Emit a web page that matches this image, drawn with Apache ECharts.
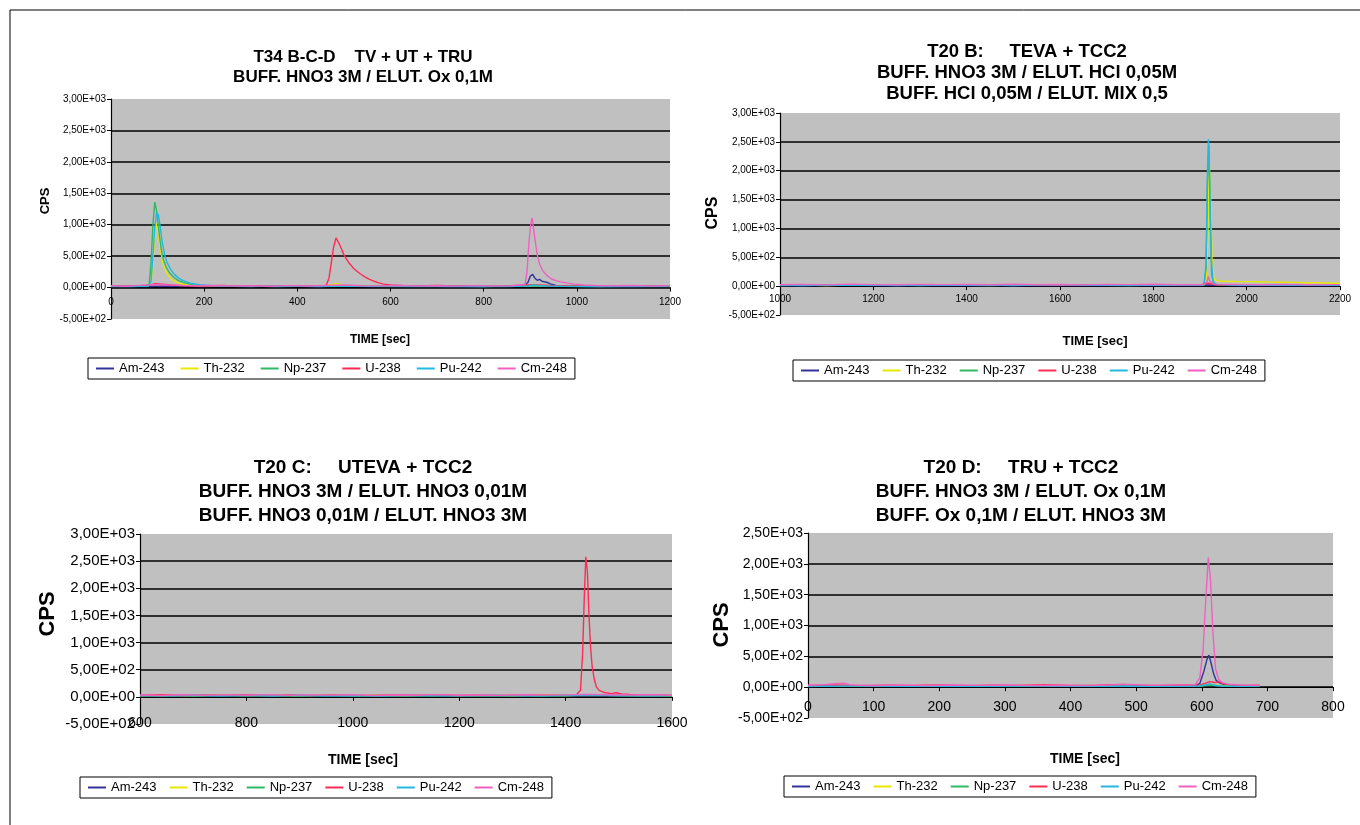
<!DOCTYPE html>
<html>
<head>
<meta charset="utf-8">
<script src="https://cdn.jsdelivr.net/npm/echarts@6/dist/echarts.min.js"></script>
<style>html,body{margin:0;padding:0;background:#fff;}#c{width:1360px;height:825px;}</style>
</head>
<body>
<div id="c"></div>
<script>
// ---------- DATA ----------
const seriesNames = ['Am-243', 'Th-232', 'Np-237', 'U-238', 'Pu-242', 'Cm-248'];
const panelTitles = [
  'T34 B-C-D    TV + UT + TRU\nBUFF. HNO3 3M / ELUT. Ox 0,1M',
  'T20 B:     TEVA + TCC2\nBUFF. HNO3 3M / ELUT. HCl 0,05M\nBUFF. HCl 0,05M / ELUT. MIX 0,5',
  'T20 C:     UTEVA + TCC2\nBUFF. HNO3 3M / ELUT. HNO3 0,01M\nBUFF. HNO3 0,01M / ELUT. HNO3 3M',
  'T20 D:     TRU + TCC2\nBUFF. HNO3 3M / ELUT. Ox 0,1M\nBUFF. Ox 0,1M / ELUT. HNO3 3M'
];
const xRanges = [[0, 1200, 200], [1000, 2200, 200], [600, 1600, 200], [0, 800, 100]];
const yRanges = [[-500, 3000, 500], [-500, 3000, 500], [-500, 3000, 500], [-500, 2500, 500]];

// Panel 1: T34 B-C-D  [time s, CPS]
const p1_am243 = [[0,15],[40,22],[80,18],[120,25],[160,20],[200,17],[240,24],[280,19],[320,21],[360,16],[400,23],[440,18],[480,26],[520,20],[560,17],[600,22],[640,19],[680,24],[720,18],[760,21],[800,16],[840,23],[885,30],[895,80],[900,180],[905,210],[910,150],[915,115],[920,130],[925,100],[935,85],[945,55],[955,35],[965,25],[1000,20],[1040,18],[1080,22],[1120,17],[1160,21],[1200,19]];
const p1_th232 = [[0,20],[40,25],[80,30],[88,200],[93,700],[97,1020],[101,900],[106,600],[112,380],[120,220],[130,130],[145,70],[160,45],[180,30],[220,22],[260,26],[300,20],[340,24],[380,19],[420,27],[460,30],[475,50],[485,60],[495,45],[510,30],[560,22],[600,25],[640,20],[680,23],[720,19],[760,26],[800,21],[840,24],[880,28],[905,45],[925,30],[960,22],[1000,25],[1050,20],[1100,23],[1150,19],[1200,22]];
const p1_np237 = [[0,18],[40,22],[78,20],[82,60],[86,400],[90,1000],[94,1360],[97,1250],[100,1100],[104,820],[108,600],[112,450],[118,330],[125,240],[135,160],[145,110],[160,70],[180,40],[210,25],[250,20],[300,23],[350,18],[400,21],[450,19],[500,24],[550,20],[600,18],[650,22],[700,19],[750,21],[800,17],[850,23],[900,30],[950,22],[1000,20],[1050,18],[1100,22],[1150,19],[1200,21]];
const p1_u238 = [[0,25],[40,30],[80,35],[95,60],[110,55],[130,40],[160,30],[200,25],[240,32],[280,22],[320,28],[360,24],[400,30],[440,26],[462,35],[468,150],[473,400],[478,650],[483,790],[487,760],[491,680],[495,610],[500,520],[505,460],[510,400],[515,360],[520,310],[528,260],[535,220],[545,170],[555,130],[565,100],[575,75],[585,55],[600,40],[630,30],[660,25],[700,32],[740,24],[780,28],[820,22],[860,30],[905,45],[940,35],[980,28],[1020,24],[1060,30],[1100,22],[1140,27],[1200,25]];
const p1_pu242 = [[0,22],[40,18],[80,25],[86,100],[90,500],[94,950],[98,1200],[102,1150],[106,950],[110,720],[115,530],[120,400],[128,290],[136,210],[145,150],[155,110],[170,70],[190,45],[220,30],[260,22],[300,18],[350,24],[400,20],[450,17],[500,23],[550,19],[600,21],[650,16],[700,22],[750,18],[800,20],[850,17],[895,25],[905,40],[915,35],[935,25],[970,20],[1010,18],[1060,22],[1110,17],[1160,20],[1200,18]];
const p1_cm248 = [[0,30],[30,20],[60,35],[90,50],[110,45],[140,35],[180,28],[220,33],[260,25],[300,30],[340,22],[380,31],[420,26],[460,34],[500,40],[540,30],[580,27],[620,32],[660,24],[700,29],[740,23],[780,31],[820,26],[860,30],[889,50],[893,250],[897,700],[901,1000],[904,1110],[907,950],[911,720],[915,520],[920,380],[925,290],[931,230],[938,180],[945,140],[955,110],[965,90],[980,70],[995,55],[1015,40],[1045,30],[1080,28],[1120,32],[1160,25],[1200,30]];

// Panel 2: T20 B
const p2_am243 = [[1000,10],[1050,15],[1100,12],[1150,18],[1200,11],[1250,14],[1300,9],[1350,16],[1400,12],[1450,13],[1500,10],[1550,15],[1600,11],[1650,14],[1700,12],[1750,16],[1800,10],[1850,13],[1900,12],[1918,20],[1933,14],[1980,12],[2030,15],[2080,11],[2130,13],[2200,12]];
const p2_th232 = [[1000,15],[1050,20],[1100,12],[1150,18],[1200,22],[1250,14],[1300,19],[1350,16],[1400,21],[1450,13],[1500,18],[1550,15],[1600,20],[1650,14],[1700,17],[1750,19],[1800,15],[1850,18],[1908,20],[1913,100],[1917,900],[1920,2100],[1923,1500],[1926,400],[1930,120],[1938,90],[1950,85],[1975,80],[2000,78],[2025,75],[2050,70],[2075,68],[2100,65],[2125,60],[2150,58],[2175,55],[2200,50]];
const p2_np237 = [[1000,12],[1050,18],[1100,14],[1150,20],[1200,13],[1250,17],[1300,11],[1350,19],[1400,15],[1450,12],[1500,18],[1550,14],[1600,22],[1650,13],[1700,16],[1750,12],[1800,18],[1850,14],[1908,15],[1913,300],[1916,1800],[1919,2450],[1922,1200],[1925,200],[1929,40],[1938,20],[1980,15],[2030,18],[2080,13],[2130,16],[2200,14]];
const p2_u238 = [[1000,20],[1050,25],[1100,18],[1150,24],[1200,21],[1250,27],[1300,19],[1350,23],[1400,26],[1450,18],[1500,22],[1550,25],[1600,20],[1650,24],[1700,19],[1750,26],[1800,21],[1850,23],[1900,20],[1918,50],[1933,25],[1980,22],[2030,26],[2080,19],[2130,24],[2200,21]];
const p2_pu242 = [[1000,15],[1050,12],[1100,19],[1150,14],[1200,17],[1250,11],[1300,20],[1350,13],[1400,16],[1450,21],[1500,12],[1550,18],[1600,25],[1650,14],[1700,17],[1750,13],[1800,19],[1850,15],[1909,20],[1913,400],[1916,2000],[1918,2550],[1921,1800],[1924,500],[1928,80],[1935,30],[1980,16],[2030,13],[2080,18],[2130,14],[2200,16]];
const p2_cm248 = [[1000,25],[1050,30],[1100,22],[1150,35],[1200,27],[1250,24],[1300,31],[1350,26],[1400,29],[1450,23],[1500,32],[1550,25],[1600,28],[1650,22],[1700,30],[1750,26],[1800,33],[1850,24],[1908,28],[1915,80],[1918,170],[1921,90],[1928,35],[1980,28],[2030,24],[2080,30],[2130,25],[2200,27]];

// Panel 3: T20 C
const p3_am243 = [[600,15],[650,20],[700,12],[750,18],[800,14],[850,22],[900,16],[950,13],[1000,19],[1050,15],[1100,21],[1150,12],[1200,17],[1250,14],[1300,20],[1350,16],[1400,13],[1450,25],[1500,18],[1550,14],[1600,16]];
const p3_th232 = [[600,22],[650,30],[700,18],[750,35],[800,25],[850,28],[900,20],[950,33],[1000,24],[1050,29],[1100,19],[1150,31],[1200,23],[1250,27],[1300,21],[1350,34],[1400,25],[1450,40],[1500,30],[1550,22],[1600,26]];
const p3_np237 = [[600,18],[650,25],[700,15],[750,22],[800,19],[850,27],[900,14],[950,23],[1000,17],[1050,26],[1100,20],[1150,16],[1200,24],[1250,18],[1300,22],[1350,15],[1400,21],[1450,30],[1500,19],[1550,23],[1600,17]];
const p3_u238 = [[600,30],[640,40],[680,25],[720,35],[760,30],[800,38],[840,28],[880,33],[920,26],[960,36],[1000,30],[1040,27],[1080,35],[1120,29],[1160,33],[1200,25],[1240,31],[1280,28],[1320,36],[1360,30],[1400,32],[1420,35],[1428,120],[1432,800],[1435,1800],[1438,2580],[1441,2300],[1444,1500],[1447,900],[1450,550],[1454,320],[1458,180],[1463,120],[1470,90],[1478,70],[1486,60],[1495,75],[1505,55],[1520,45],[1540,35],[1560,30],[1580,35],[1600,28]];
const p3_pu242 = [[600,25],[650,18],[700,30],[750,20],[800,27],[850,16],[900,29],[950,21],[1000,26],[1050,17],[1100,28],[1150,22],[1200,19],[1250,30],[1300,23],[1350,18],[1400,27],[1450,35],[1500,24],[1550,20],[1600,26]];
const p3_cm248 = [[600,35],[640,25],[680,40],[720,28],[760,37],[800,30],[840,42],[880,27],[920,36],[960,31],[1000,39],[1040,26],[1080,34],[1120,29],[1160,41],[1200,30],[1240,35],[1280,27],[1320,38],[1360,32],[1400,36],[1440,45],[1480,40],[1520,33],[1560,38],[1600,30]];

// Panel 4: T20 D
const p4_am243 = [[0,12],[40,18],[80,14],[120,20],[160,15],[200,22],[240,13],[280,19],[320,16],[360,24],[400,14],[440,18],[480,21],[520,15],[560,19],[590,20],[597,60],[603,250],[608,450],[611,520],[614,400],[618,220],[622,110],[627,70],[635,40],[650,22],[670,18],[688,16]];
const p4_th232 = [[0,20],[40,26],[80,18],[120,24],[160,21],[200,28],[240,19],[280,25],[320,22],[360,30],[400,20],[440,27],[480,23],[520,29],[560,21],[600,26],[615,40],[630,28],[660,24],[688,22]];
const p4_np237 = [[0,15],[40,20],[80,17],[120,23],[160,14],[200,21],[240,18],[280,24],[320,16],[360,22],[400,19],[440,15],[480,25],[520,18],[560,21],[600,17],[612,35],[630,20],[660,16],[688,19]];
const p4_u238 = [[0,28],[40,35],[80,25],[120,32],[160,27],[200,36],[240,24],[280,31],[320,29],[360,38],[400,26],[440,33],[480,45],[500,30],[540,28],[570,34],[595,30],[605,60],[612,90],[620,75],[627,85],[635,50],[650,32],[670,28],[688,30]];
const p4_pu242 = [[0,18],[40,14],[80,21],[120,16],[160,20],[200,13],[240,19],[280,15],[320,22],[360,17],[400,14],[440,20],[480,16],[520,19],[560,13],[595,18],[607,40],[612,55],[618,30],[630,18],[660,15],[688,17]];
const p4_cm248 = [[0,30],[20,38],[40,55],[55,65],[65,35],[100,28],[140,33],[180,26],[220,35],[260,29],[300,34],[340,27],[380,32],[420,25],[460,36],[490,45],[520,30],[560,33],[590,40],[597,150],[602,600],[606,1400],[610,2100],[613,1800],[617,900],[621,300],[626,120],[632,70],[640,50],[660,35],[688,30]];

const panelData = [
  [p1_am243, p1_th232, p1_np237, p1_u238, p1_pu242, p1_cm248],
  [p2_am243, p2_th232, p2_np237, p2_u238, p2_pu242, p2_cm248],
  [p3_am243, p3_th232, p3_np237, p3_u238, p3_pu242, p3_cm248],
  [p4_am243, p4_th232, p4_np237, p4_u238, p4_pu242, p4_cm248]
];

// ---------- STYLE / LAYOUT ----------
const colors = ['#333399', '#e8e800', '#2fb865', '#ff2a55', '#22b8e0', '#f060c0'];
const grids = [
  {left: 111, top: 99, width: 559, height: 220},
  {left: 780, top: 113, width: 560, height: 202},
  {left: 140, top: 534, width: 532, height: 190},
  {left: 808, top: 533, width: 525, height: 185}
];
const yLabelSize = [10, 10, 15, 14];
const xLabelSize = [10, 10, 14, 14];
const xLabelMargin = [-22, -21, -8, -18];
const sans = '"Liberation Sans",Arial,sans-serif';
const titleCfg = [
  {x: 363, y: 57, size: 17, lh: 20},
  {x: 1027, y: 52, size: 18.5, lh: 21},
  {x: 363, y: 468, size: 19, lh: 24},
  {x: 1021, y: 468, size: 19, lh: 24}
];
const cpsCfg = [
  {x: 45, y: 201, size: 13},
  {x: 713, y: 213, size: 16},
  {x: 48, y: 614, size: 22},
  {x: 722, y: 625, size: 22}
];
const timeCfg = [
  {x: 380, y: 340, size: 12},
  {x: 1095, y: 341, size: 13},
  {x: 363, y: 760, size: 14},
  {x: 1085, y: 759, size: 14}
];
const legendCfg = [
  {left: 88, top: 358, gap: 16},
  {left: 793, top: 360, gap: 13},
  {left: 80, top: 777, gap: 13},
  {left: 784, top: 776, gap: 13}
];

function sci(v) {
  if (v === 0) return '0,00E+00';
  const e = Math.floor(Math.log10(Math.abs(v)) + 1e-9);
  const m = v / Math.pow(10, e);
  return m.toFixed(2).replace('.', ',') + 'E' + (e >= 0 ? '+' : '-') + String(Math.abs(e)).padStart(2, '0');
}

const chart = echarts.init(document.getElementById('c'));
const xAxis = [], yAxis = [], series = [], legend = [], graphic = [];

grids.forEach(g => {
  g.backgroundColor = '#c0c0c0';
  g.show = true;
  g.borderWidth = 0;
  g.containLabel = false;
});

for (let i = 0; i < 4; i++) {
  const [xmin, xmax, xint] = xRanges[i];
  const [ymin, ymax, yint] = yRanges[i];
  const nY = Math.round((ymax - ymin) / yint) + 1;
  const splitColors = [];
  for (let k = 0; k < nY; k++) splitColors.push(k === 0 || k === nY - 1 ? 'rgba(0,0,0,0)' : '#000');
  // axis line at y = 0 with ticks
  xAxis.push({
    type: 'value', gridIndex: i, min: xmin, max: xmax, interval: xint,
    axisLine: {show: true, onZero: true, lineStyle: {color: '#000', width: 1.2}},
    axisTick: {show: true, length: 4, lineStyle: {color: '#000'}},
    axisLabel: {show: false},
    splitLine: {show: false}
  });
  yAxis.push({
    type: 'value', gridIndex: i, min: ymin, max: ymax, interval: yint,
    axisLine: {show: true, lineStyle: {color: '#000', width: 1.2}},
    axisTick: {show: true, length: 4, lineStyle: {color: '#000'}},
    axisLabel: {fontSize: yLabelSize[i], color: '#000', margin: 5, formatter: sci, fontFamily: sans},
    splitLine: {show: true, lineStyle: {color: splitColors, width: 1.5}}
  });
  legend.push({
    left: legendCfg[i].left, top: legendCfg[i].top, orient: 'horizontal',
    borderColor: '#000', borderWidth: 1, padding: [4, 8, 4, 8], itemGap: legendCfg[i].gap,
    itemWidth: 18, itemHeight: 2, icon: 'rect', backgroundColor: '#fff',
    textStyle: {fontSize: 13, color: '#000', fontFamily: sans},
    data: seriesNames
  });
  panelData[i].forEach((d, s) => {
    series.push({
      name: seriesNames[s], type: 'line', xAxisIndex: i, yAxisIndex: i,
      data: d, showSymbol: false, symbol: 'none', animation: false,
      lineStyle: {width: 1.4, color: colors[s]}, itemStyle: {color: colors[s]}
    });
  });
  graphic.push({
    type: 'text', x: titleCfg[i].x, y: titleCfg[i].y - titleCfg[i].lh / 2,
    style: {text: panelTitles[i], fill: '#000', fontWeight: 'bold', fontSize: titleCfg[i].size,
      lineHeight: titleCfg[i].lh, fontFamily: sans, textAlign: 'center', textVerticalAlign: 'top'}
  });
  graphic.push({
    type: 'text', x: cpsCfg[i].x, y: cpsCfg[i].y, rotation: Math.PI / 2,
    style: {text: 'CPS', fill: '#000', fontWeight: 'bold', fontSize: cpsCfg[i].size,
      fontFamily: sans, textAlign: 'center', textVerticalAlign: 'middle'}
  });
  graphic.push({
    type: 'text', x: timeCfg[i].x, y: timeCfg[i].y,
    style: {text: 'TIME [sec]', fill: '#000', fontWeight: 'bold', fontSize: timeCfg[i].size,
      fontFamily: sans, textAlign: 'center', textVerticalAlign: 'middle'}
  });
}
// tick-label axes (Excel places the labels near the axis / low)
for (let i = 0; i < 4; i++) {
  const [xmin, xmax, xint] = xRanges[i];
  xAxis.push({
    type: 'value', gridIndex: i, min: xmin, max: xmax, interval: xint, position: 'bottom',
    axisLine: {show: false, onZero: false}, axisTick: {show: false},
    axisLabel: {show: true, fontSize: xLabelSize[i], color: '#000', margin: xLabelMargin[i],
      fontFamily: sans, formatter: v => String(v)},
    splitLine: {show: false}
  });
}
graphic.push({
  type: 'rect', shape: {x: 10, y: 10, width: 1400, height: 900},
  style: {fill: 'none', stroke: '#000', lineWidth: 1}, silent: true, z: -1
});

chart.setOption({
  animation: false,
  backgroundColor: '#fff',
  grid: grids,
  xAxis: xAxis,
  yAxis: yAxis,
  legend: legend,
  series: series,
  graphic: graphic
});
</script>
</body>
</html>
